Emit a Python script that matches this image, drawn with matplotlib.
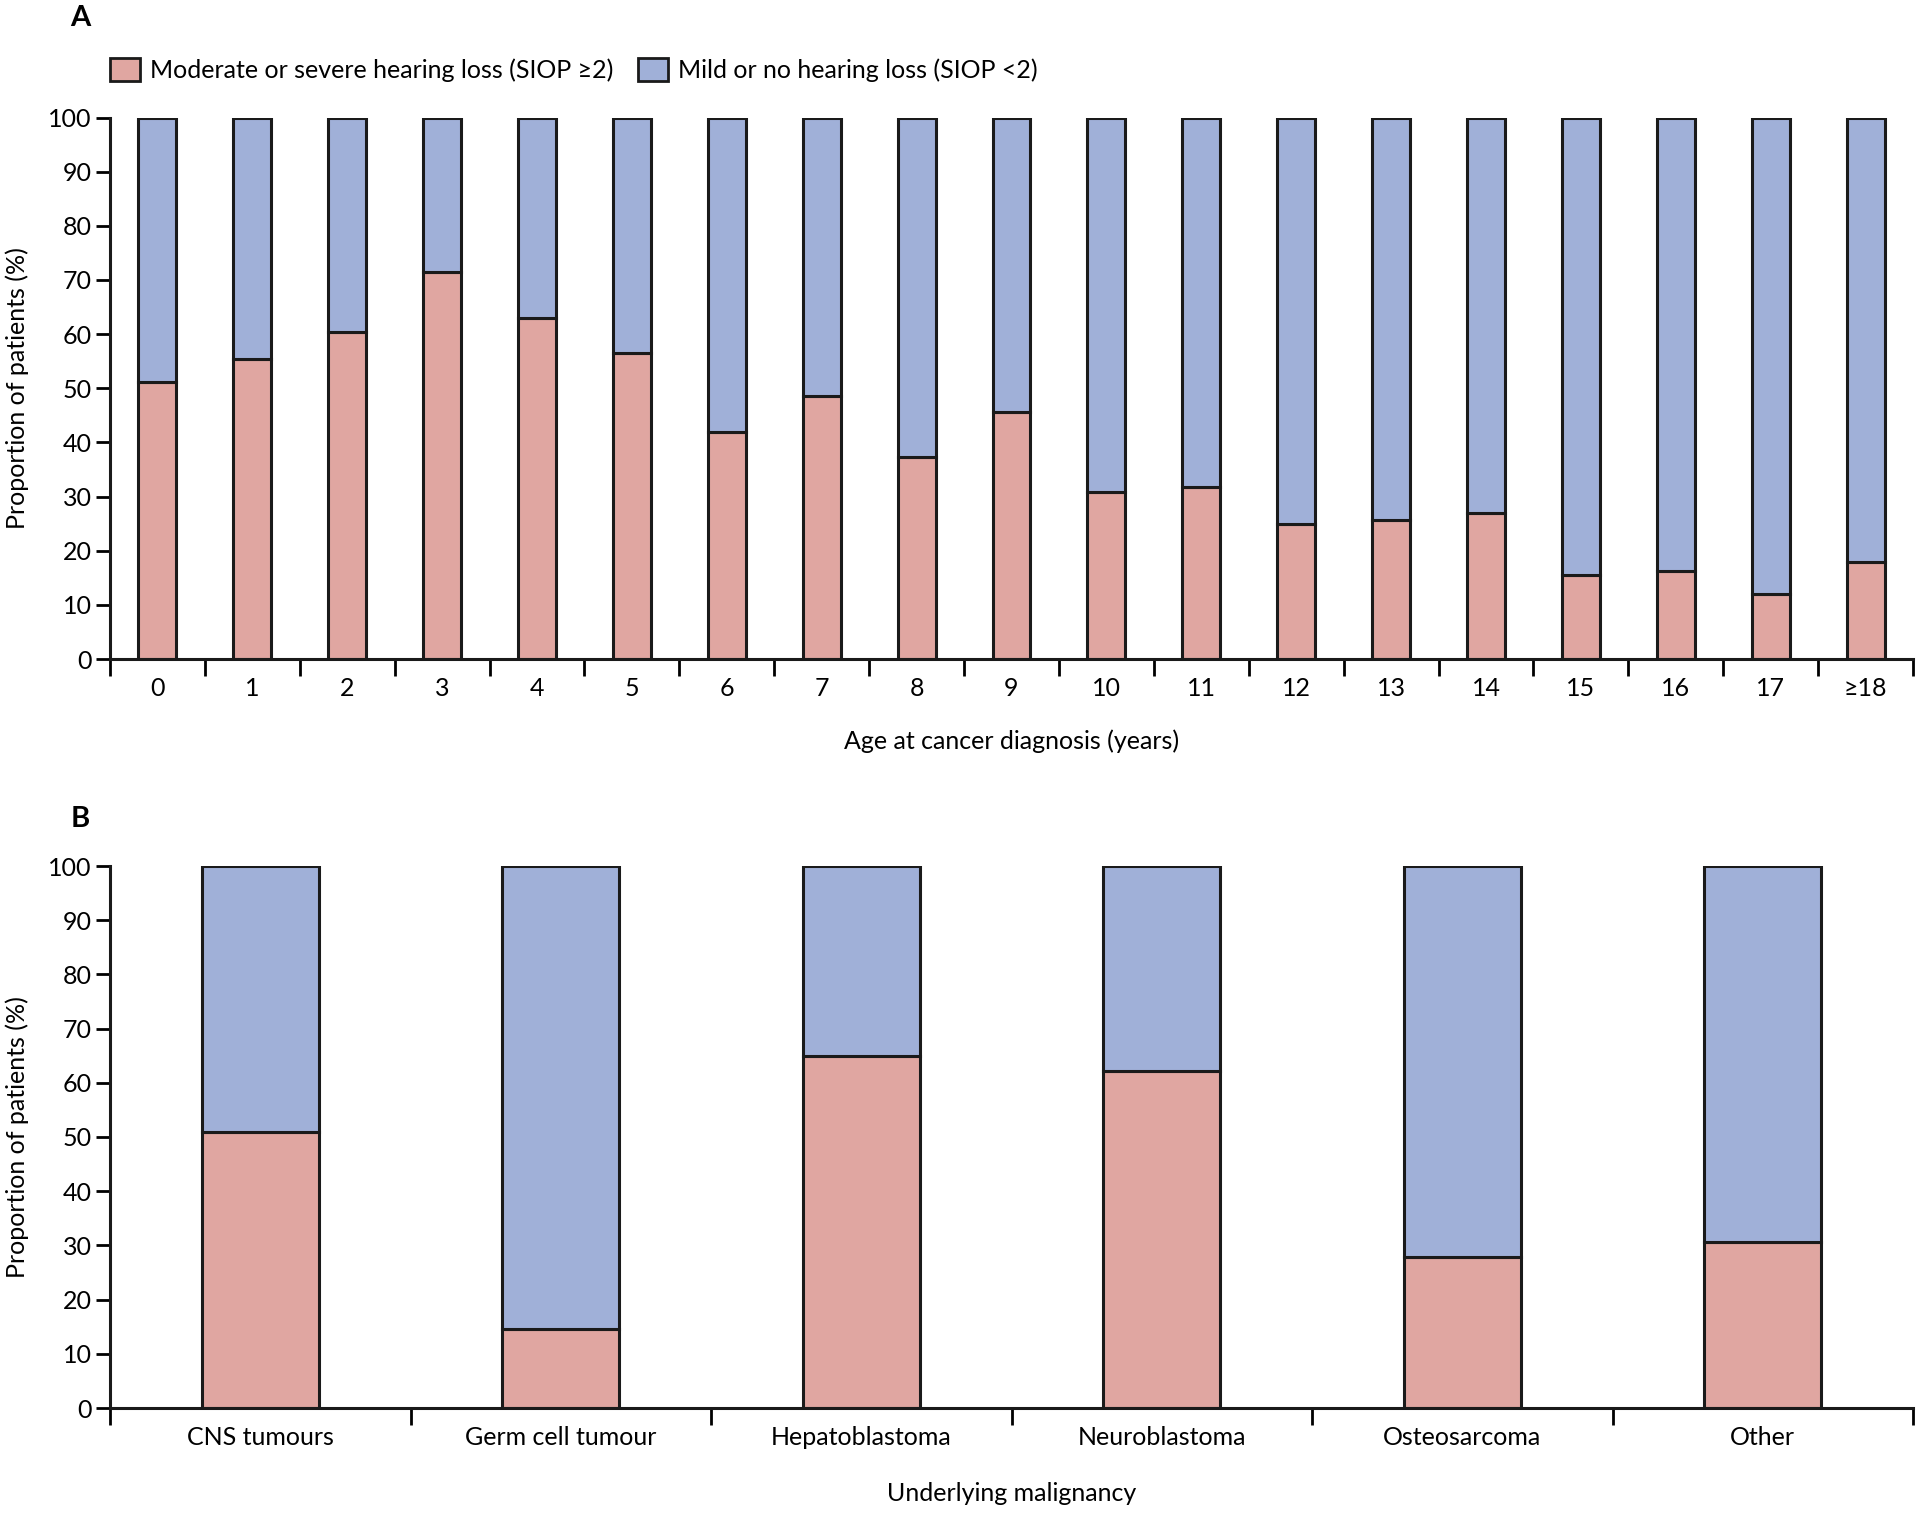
import numpy as np
import matplotlib
matplotlib.use("Agg")
import matplotlib.pyplot as plt
from matplotlib.patches import Patch

plt.rcParams['font.family'] = ['Lato', 'DejaVu Sans']

# panel A: age at diagnosis
ages = ['0', '1', '2', '3', '4', '5', '6', '7', '8', '9', '10', '11', '12',
        '13', '14', '15', '16', '17', '≥18']
age_severe = [51.2, 55.4, 60.4, 71.5, 62.9, 56.6, 41.9, 48.6, 37.3, 45.7,
              30.8, 31.7, 24.9, 25.6, 26.9, 15.6, 16.3, 12.0, 17.9]

# panel B: underlying malignancy
tumours = ['CNS tumours', 'Germ cell tumour', 'Hepatoblastoma', 'Neuroblastoma',
           'Osteosarcoma', 'Other']
tumour_severe = [50.9, 14.6, 65.0, 62.1, 27.8, 30.6]

severe_label = 'Moderate or severe hearing loss (SIOP ≥2)'
mild_label = 'Mild or no hearing loss (SIOP <2)'
pink = '#e0a6a1'
blue = '#a0b0d8'

W, H = 1920, 1514
fig = plt.figure(figsize=(W / 100, H / 100), dpi=100)


def fig_box(left, top, right, bottom):
    return [left / W, 1 - bottom / H, (right - left) / W, (bottom - top) / H]


def stacked(ax, cats, severe, width, xlabel, labelpad):
    x = np.arange(len(cats))
    sev = np.array(severe)
    ax.bar(x, sev, width=width, color=pink, edgecolor='#1a1a1a', linewidth=2.2)
    ax.bar(x, 100 - sev, bottom=sev, width=width, color=blue,
           edgecolor='#1a1a1a', linewidth=2.2)
    ax.set_xlim(-0.5, len(cats) - 0.5)
    ax.set_ylim(0, 100)
    ax.set_yticks(np.arange(0, 101, 10))
    ax.set_xticks(np.arange(len(cats) + 1) - 0.5)
    ax.set_xticklabels([])
    ax.set_xticks(x, minor=True)
    ax.set_xticklabels(cats, minor=True)
    ax.tick_params(axis='x', which='major', length=12, width=2, direction='out')
    ax.tick_params(axis='x', which='minor', length=0, pad=13, labelsize=18)
    ax.tick_params(axis='y', length=10, width=2, labelsize=18, pad=3)
    for s in ['top', 'right']:
        ax.spines[s].set_visible(False)
    for s in ['left', 'bottom']:
        ax.spines[s].set_linewidth(2.2)
        ax.spines[s].set_color('#1a1a1a')
    ax.set_ylabel('Proportion of patients (%)', fontsize=18)
    ax.yaxis.set_label_coords(-81 / 1803, 0.5)
    ax.set_xlabel(xlabel, fontsize=18, labelpad=labelpad)


ax1 = fig.add_axes(fig_box(110, 117.5, 1913, 659))
stacked(ax1, ages, age_severe, 0.4, 'Age at cancer diagnosis (years)', 21)

ax2 = fig.add_axes(fig_box(110, 866, 1913, 1408))
stacked(ax2, tumours, tumour_severe, 0.39, 'Underlying malignancy', 24)

fig.text(80 / W, 1 - 18 / H, 'A', fontsize=21, fontweight='bold', ha='center', va='center')
fig.text(80 / W, 1 - 819 / H, 'B', fontsize=21, fontweight='bold', ha='center', va='center')

handles = [Patch(facecolor=pink, edgecolor='#1a1a1a', linewidth=2),
           Patch(facecolor=blue, edgecolor='#1a1a1a', linewidth=2)]
fig.legend(handles, [severe_label, mild_label], loc='center left',
           bbox_to_anchor=(87 / W, 1 - 70 / H), ncol=2, frameon=False,
           fontsize=18, handlelength=1.2, handleheight=1.0, handletextpad=0.4,
           columnspacing=1.0)

fig.savefig('out.png', dpi=100)
